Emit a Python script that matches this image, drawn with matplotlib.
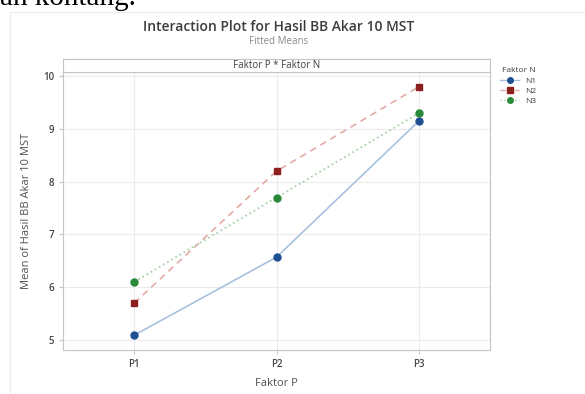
import matplotlib
matplotlib.use('Agg')
import matplotlib.pyplot as plt
from matplotlib.patches import Rectangle

# data
faktor_p = ['P1', 'P2', 'P3']
n1 = [5.09, 6.57, 9.15]
n2 = [5.70, 8.20, 9.80]
n3 = [6.10, 7.70, 9.30]
y_ticks = [5, 6, 7, 8, 9, 10]

plt.rcParams['font.family'] = ['Open Sans', 'DejaVu Sans']

fig = plt.figure(figsize=(5.85, 3.94), dpi=100)

# clipped text from the surrounding document
fig.text(0.0, 1 - 5 / 394, 'ah kontang.', family='Liberation Serif',
         fontsize=21, color='black', va='baseline', ha='left')

# faint outer frame of the screenshot
fig.patches.append(Rectangle((10 / 585, -0.01), 0.99, 1 - 12 / 394 + 0.01,
                             transform=fig.transFigure, fill=False,
                             edgecolor='#ececec', linewidth=0.8))

fig.text(0.476, 1 - 27 / 394, 'Interaction Plot for Hasil BB Akar 10 MST',
         ha='center', va='center', fontsize=10, fontweight='semibold', color='#3c3c3c')
fig.text(0.476, 1 - 42 / 394, 'Fitted Means', ha='center', va='center',
         fontsize=7, color='#8a8a8a')

L, R = 63 / 585, 490 / 585
B, T = 1 - 350 / 394, 1 - 72 / 394
ax = fig.add_axes([L, B, R - L, T - B])

x = range(len(faktor_p))
ax.plot(x, n1, '-', color='#a9c1df', linewidth=1.2, zorder=2)
ax.plot(x, n2, '--', color='#e3aaa5', linewidth=1.2, dashes=(4, 3), zorder=2)
ax.plot(x, n3, ':', color='#a8d3a8', linewidth=1.3, zorder=2)
ax.plot(x, n1, 'o', color='#1f4f93', markersize=5, zorder=3)
ax.plot(x, n2, 's', color='#8e1f1f', markersize=5, zorder=3)
ax.plot(x, n3, 'o', color='#2a8a3a', markersize=5, zorder=3)

ax.set_xlim(-0.5, 2.5)
ax.set_ylim(4.81, 10.08)
ax.set_xticks(list(x))
ax.set_xticklabels(faktor_p)
ax.set_yticks(y_ticks)
ax.grid(True, color='#ebebeb', linewidth=0.8)
ax.set_axisbelow(True)
for s in ax.spines.values():
    s.set_color('#c4c4c4')
ax.tick_params(colors='#c4c4c4', labelcolor='#484848', labelsize=7, length=3)
for lab in ax.get_xticklabels() + ax.get_yticklabels():
    lab.set_fontweight('semibold')
ax.set_xlabel('Faktor P', fontsize=8, color='#505050', labelpad=6)
ax.set_ylabel('Mean of Hasil BB Akar 10 MST', fontsize=8, color='#505050', labelpad=8)

# panel strip
sax = fig.add_axes([L, T, R - L, 13 / 394])
sax.set_xticks([])
sax.set_yticks([])
for s in sax.spines.values():
    s.set_color('#c4c4c4')
sax.text(0.5, 0.5, 'Faktor P * Faktor N', ha='center', va='center',
         fontsize=7, color='#404040', transform=sax.transAxes)

# legend
h1, = ax.plot([], [], '-o', color='#a9c1df', markersize=4, linewidth=1,
              markerfacecolor='#1f4f93', markeredgecolor='#1f4f93')
h2, = ax.plot([], [], '--s', color='#e3aaa5', markersize=4, linewidth=1,
              markerfacecolor='#8e1f1f', markeredgecolor='#8e1f1f')
h3, = ax.plot([], [], ':o', color='#a8d3a8', markersize=4, linewidth=1,
              markerfacecolor='#2a8a3a', markeredgecolor='#2a8a3a')
leg = fig.legend([h1, h2, h3], ['N1', 'N2', 'N3'], title='Faktor N',
                 loc='upper left', bbox_to_anchor=(497 / 585, 1 - 64 / 394),
                 frameon=False, fontsize=6, title_fontsize=6,
                 handlelength=2.2, labelspacing=0.3, borderaxespad=0)
leg.get_title().set_color('#404040')
for t in leg.get_texts():
    t.set_color('#404040')

plt.savefig('out.png', dpi=100)
